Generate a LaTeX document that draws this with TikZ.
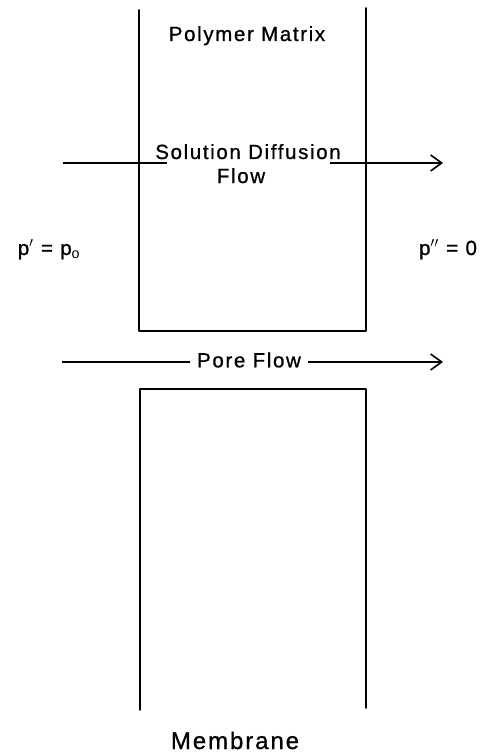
\documentclass[tikz,border=0pt]{standalone}
\usepackage{fontspec}
\setmainfont{Liberation Sans}
\newfontfamily\lettering[LetterSpace=8,FakeBold=0.8]{Liberation Sans}
\usetikzlibrary{arrows.meta}
\begin{document}
\begin{tikzpicture}[x=1pt,y=-1pt,
  wall/.style={line width=1.6pt,line cap=round,line join=round},
  flow/.style={line width=1.3pt},
  flowarrow/.style={line width=1.3pt,-{Straight Barb[length=11pt,width=16pt,line width=1.6pt]}},
  label/.style={font=\lettering\fontsize{20.5}{24}\selectfont,inner sep=0pt,anchor=base},
  biglabel/.style={font=\lettering\fontsize{24}{29}\selectfont,inner sep=0pt,anchor=base}]
\useasboundingbox (0,0) rectangle (482,754);
% upper block (polymer matrix)
\coordinate (ua) at (139,10);
\coordinate (ub) at (139,331);
\coordinate (uc) at (366,331);
\coordinate (ud) at (366,8);
\draw[wall] (ua) -- (ub) -- (uc) -- (ud);
% lower block
\coordinate (la) at (140,710);
\coordinate (lb) at (140,389);
\coordinate (lc) at (366,389);
\coordinate (ld) at (366,708);
\draw[wall] (la) -- (lb) -- (lc) -- (ld);
% texts
\node[label] (pm) at (247,41) {Polymer Matrix};
\node[label] (sd) at (248,159) {Solution Diffusion};
\node[label] (sdf) at (241,183) {Flow};
\node[label] (pl) at (49,255) {p$'$ = p$_{\mathrm{o}}$};
\node[label] (pr) at (448,255) {p$''$ = 0};
\node[biglabel] (mb) at (235,749) {Membrane};
% solution diffusion flow
\coordinate (sdL) at (63,163);
\coordinate (sdLe) at (167,163);
\coordinate (sdRs) at (330,163);
\coordinate (sdR) at (443,163);
\draw[flow] (sdL) -- (sdLe);
\draw[flowarrow] (sdRs) -- (sdR);
% pore flow
\node[label,anchor=center,inner xsep=7pt] (pf) at (249,360) {Pore Flow};
\coordinate (pfL) at (62,362);
\coordinate (pfR) at (443,362);
\draw[flow] (pfL) -- (pfL -| pf.west);
\draw[flowarrow] (pfR -| pf.east) -- (pfR);
\end{tikzpicture}
\end{document}
